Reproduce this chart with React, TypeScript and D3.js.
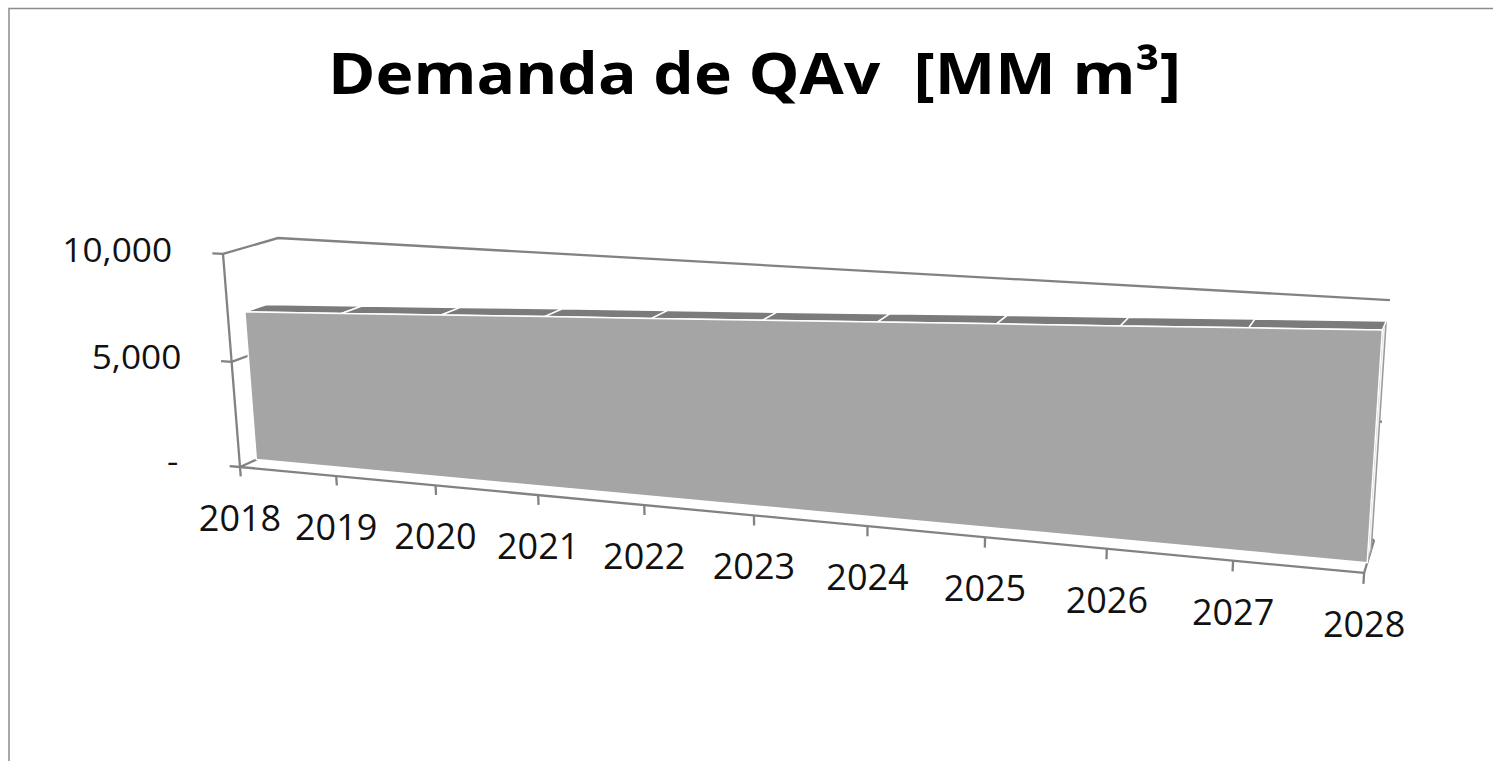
import React, { useRef, useEffect } from "react";
import * as d3 from "d3";

const years = ["2018", "2019", "2020", "2021", "2022", "2023", "2024", "2025", "2026", "2027", "2028"];
const demand = [7070, 7300, 7540, 7780, 8010, 8240, 8480, 8720, 8950, 9190, 9420];
const valueTicks = [0, 5000, 10000];
const title = "Demanda de QAv  [MM m³]";

function App() {
    const ref = useRef<SVGSVGElement>(null);

    useEffect(() => {
        draw();
    }, []);

    const draw = () => {
        const svg = d3.select(ref.current);
        svg.selectAll("*").remove();

        // u = category position, v = value 0..1, w = depth (0 front wall, 1 back wall)
        const x = d3.scalePoint<string>().domain(years).range([0, years.length - 1]);
        const y = d3.scaleLinear().domain([0, 10000]).range([0, 1]);
        const uMax = years.length - 1;

        // perspective camera: origin on screen + the three vanishing points
        const origin = [240, 467];
        const vpU = [-5764, -99], kU = -0.01577;
        const vpV = [864, 8287], kV = -0.02652;
        const vpW = [1579.7, -139], kW = 0.04113;
        const proj = (u: number, v: number, w: number): [number, number] => {
            const d = 1 + kU * u + kV * v + kW * w;
            return [
                (kU * u * vpU[0] + kV * v * vpV[0] + kW * w * vpW[0] + origin[0]) / d,
                (kU * u * vpU[1] + kV * v * vpV[1] + kW * w * vpW[1] + origin[1]) / d,
            ];
        };
        const line = d3.line();
        const poly = (pts: [number, number][]) => line(pts) + "Z";

        // series sits in the middle of the depth
        const wFront = 0.3;
        const wBack = 0.7;

        const gray = "#828282";
        const lw = 2.3;

        // chart frame
        svg.append("rect")
            .attr("x", 9)
            .attr("y", 8.5)
            .attr("width", 1700)
            .attr("height", 900)
            .attr("fill", "white")
            .attr("stroke", "#8c8c8c")
            .attr("stroke-width", 1.5);

        // title
        svg.append("text")
            .text(title)
            .attr("x", 754.5)
            .attr("y", 94)
            .attr("text-anchor", "middle")
            .attr("font-family", "'Open Sans', sans-serif")
            .attr("font-weight", 700)
            .attr("font-size", 58)
            .attr("textLength", 853)
            .attr("lengthAdjust", "spacingAndGlyphs")
            .style("white-space", "pre")
            .attr("fill", "#000");

        // gridlines on side wall and back wall
        valueTicks.forEach((t) => {
            svg.append("path")
                .attr("d", line([proj(0, y(t), 0), proj(0, y(t), 1), proj(uMax, y(t), 1)]))
                .attr("fill", "none")
                .attr("stroke", gray)
                .attr("stroke-width", lw);
        });
        // floor right edge
        svg.append("path")
            .attr("d", line([proj(uMax, 0, 0), proj(uMax, 0, 1)]))
            .attr("stroke", gray)
            .attr("stroke-width", lw);

        // value axis
        svg.append("path")
            .attr("d", line([proj(0, 0, 0), proj(0, 1, 0)]))
            .attr("stroke", gray)
            .attr("stroke-width", lw);
        valueTicks.forEach((t) => {
            svg.append("path")
                .attr("d", line([proj(-0.11, y(t), 0), proj(0, y(t), 0)]))
                .attr("stroke", gray)
                .attr("stroke-width", lw);
            const p = proj(-0.53, y(t), 0);
            svg.append("text")
                .text(t === 0 ? "-" : d3.format(",")(t))
                .attr("transform", `translate(${p[0] - (t === 0 ? 12 : 0)},${p[1] + 11}) scale(1.1,1)`)
                .attr("text-anchor", "end")
                .attr("font-family", "'Open Sans', sans-serif")
                .attr("font-size", 32)
                .attr("fill", "#111");
        });

        // category axis
        svg.append("path")
            .attr("d", line([proj(0, 0, 0), proj(uMax, 0, 0)]))
            .attr("stroke", gray)
            .attr("stroke-width", lw);
        years.forEach((yr) => {
            const p = proj(x(yr)!, 0, 0);
            svg.append("path")
                .attr("d", line([p, proj(x(yr)!, -0.045, 0)]))
                .attr("stroke", gray)
                .attr("stroke-width", lw);
            svg.append("text")
                .text(yr)
                .attr("x", p[0])
                .attr("y", p[1] + 64)
                .attr("text-anchor", "middle")
                .attr("font-family", "'Open Sans', sans-serif")
                .attr("font-size", 36)
                .attr("fill", "#111");
        });

        // 3d area: right side, top face, front face
        const last = demand.length - 1;
        svg.append("path")
            .attr("d", poly([
                proj(uMax, 0, wFront),
                proj(uMax, y(demand[last]), wFront),
                proj(uMax, y(demand[last]), wBack),
                proj(uMax, 0, wBack),
            ]))
            .attr("fill", "#f4f4f4")
            .attr("stroke", "#9a9a9a")
            .attr("stroke-width", 1.5);

        demand.slice(0, last).forEach((d, i) => {
            const u0 = x(years[i])!;
            const u1 = x(years[i + 1])!;
            const d1 = demand[i + 1];
            svg.append("path")
                .attr("d", poly([
                    proj(u0, y(d), wFront),
                    proj(u1, y(d1), wFront),
                    proj(u1, y(d1), wBack),
                    proj(u0, y(d), wBack),
                ]))
                .attr("fill", "#7b7b7b")
                .attr("stroke", "white")
                .attr("stroke-width", 1.5);
        });

        const front: [number, number][] = [proj(0, 0, wFront)];
        demand.forEach((d, i) => front.push(proj(x(years[i])!, y(d), wFront)));
        front.push(proj(uMax, 0, wFront));
        svg.append("path")
            .attr("d", poly(front))
            .attr("fill", "#a5a5a5")
            .attr("stroke", "white")
            .attr("stroke-width", 1.5);
    };

    return (
        <svg
            ref={ref}
            width={1493}
            height={761}
            style={{ position: "absolute", left: 0, top: 0, background: "white" }}
        ></svg>
    );
}

export default App;
